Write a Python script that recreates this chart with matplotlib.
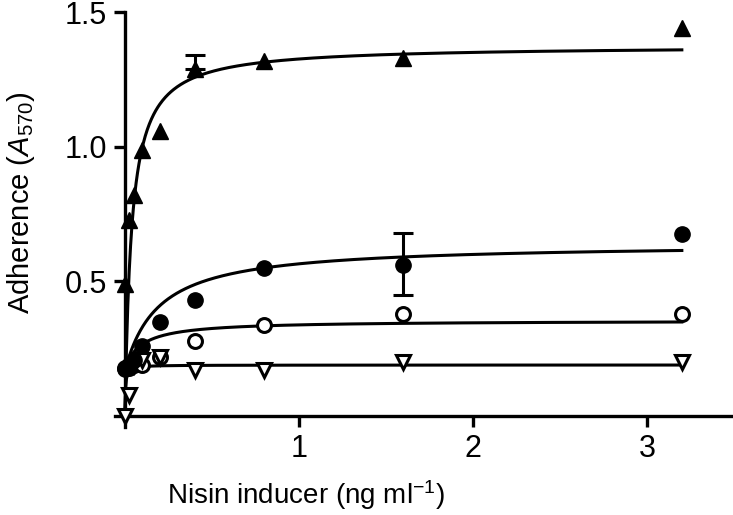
import numpy as np
import matplotlib
matplotlib.use("Agg")
import matplotlib.pyplot as plt

plt.rcParams['font.family'] = ['Liberation Sans', 'DejaVu Sans']
plt.rcParams['mathtext.fontset'] = 'custom'
plt.rcParams['mathtext.rm'] = 'Liberation Sans'
plt.rcParams['mathtext.it'] = 'Liberation Sans:italic'

# nisin concentrations (ng/ml)
nisin = [0, 0.025, 0.05, 0.1, 0.2, 0.4, 0.8, 1.6, 3.2]

# filled triangles
tri_fill = [0.49, 0.73, 0.82, 0.99, 1.06, 1.29, 1.32, 1.33, 1.44]
# filled circles
circ_fill = [0.175, 0.19, 0.21, 0.26, 0.35, 0.43, 0.55, 0.56, 0.675]
# open circles
circ_open = [0.18, 0.18, 0.19, 0.19, 0.22, 0.28, 0.34, 0.38, 0.38]
# open down triangles
tri_open = [0.0, 0.08, 0.19, 0.21, 0.22, 0.17, 0.17, 0.20, 0.20]

# error bars (x, y, upper, lower)
err_x = [0.4, 1.6]
err_y = [1.29, 0.56]
err_up = [0.05, 0.12]
err_lo = [0.0, 0.11]

# hyperbolic fit parameters: baseline, Bmax, Kd
fit_tri_fill = (0.0, 1.376, 0.0376)
fit_circ_fill = (0.17, 0.472, 0.193)
fit_circ_open = (0.18, 0.175, 0.101)
fit_tri_open = (0.03, 0.16, 0.004)

x = np.array(nisin)

fig = plt.figure(figsize=(7.33, 5.15), dpi=100)
ax = fig.add_axes([0.157, 0.171, 0.843, 0.808])

xs = np.linspace(0, 3.2, 800)
for (b0, bm, kd) in [fit_tri_fill, fit_circ_fill, fit_circ_open, fit_tri_open]:
	ax.plot(xs, b0 + bm * xs / (kd + xs), color='black', lw=2.2, zorder=2)

ms = 11
ax.plot(x, circ_open, 'o', mfc='white', mec='black', mew=2.2, ms=ms - 1, zorder=3)
ax.plot(x, tri_open, 'v', mfc='white', mec='black', mew=2.2, ms=ms - 1, zorder=3)
ax.plot(x, tri_fill, '^', color='black', ms=ms, zorder=4)
ax.plot(x, circ_fill, 'o', color='black', ms=ms, zorder=4)

for i in range(len(err_x)):
	ax.errorbar([err_x[i]], [err_y[i]], yerr=[[err_lo[i]], [err_up[i]]], fmt='none',
		ecolor='black', elinewidth=2.2, capsize=7, capthick=2.2, zorder=2)

ax.set_xlim(-0.057, 3.494)
ax.set_ylim(-0.04, 1.505)
ax.spines['left'].set_position(('data', 0))
ax.spines['bottom'].set_position(('data', 0))
ax.spines['left'].set_bounds(-0.04, 1.5)
ax.spines['top'].set_visible(False)
ax.spines['right'].set_visible(False)
for s in ['left', 'bottom']:
	ax.spines[s].set_linewidth(2.4)

ax.set_xticks([1, 2, 3])
ax.set_yticks([0.5, 1.0, 1.5])
ax.set_yticklabels(['0.5', '1.0', '1.5'])
ax.tick_params(width=2.4, length=8, labelsize=22, pad=5)

ax.set_xlabel(r'Nisin inducer (ng ml$^{\mathregular{-1}}$)', fontsize=20)
ax.set_ylabel(r'Adherence ($\mathit{A}_{570}$)', fontsize=21)
ax.xaxis.set_label_coords(0.309, -0.123)
ax.yaxis.set_label_coords(-0.126, 0.538)

fig.savefig("out.png", dpi=100)
